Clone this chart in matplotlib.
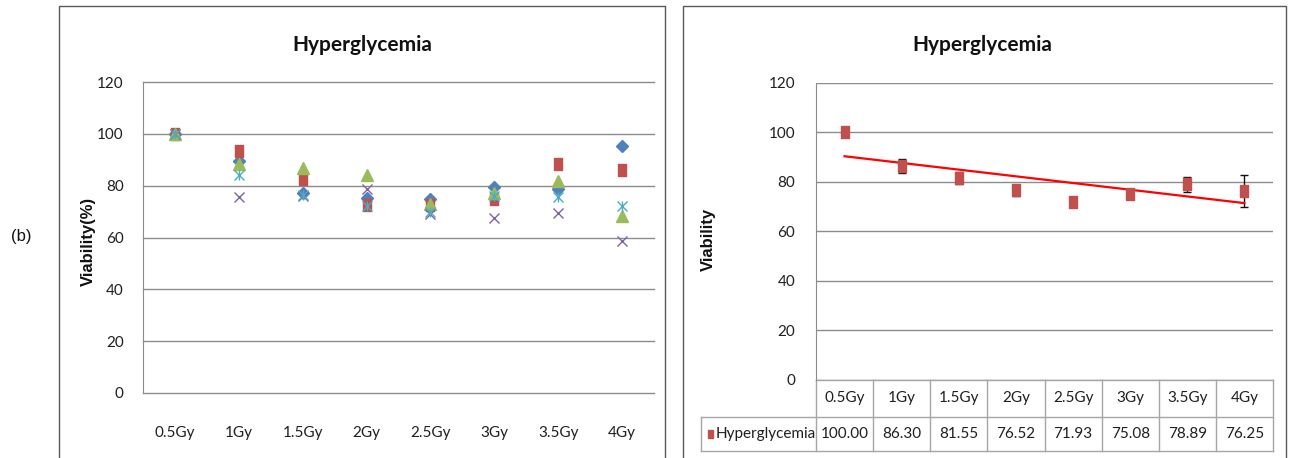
import numpy as np
import matplotlib
matplotlib.use("Agg")
import matplotlib.pyplot as plt
from matplotlib.lines import Line2D
from matplotlib.patches import Rectangle
from matplotlib.path import Path
from matplotlib.transforms import blended_transform_factory

# dose categories
doses = ["0.5Gy", "1Gy", "1.5Gy", "2Gy", "2.5Gy", "3Gy", "3.5Gy", "4Gy"]

# left panel: individual replicates
rep_blue = [100, 89.7, 77.0, 75.3, 74.9, 79.5, 78.7, 95.4]
rep_red = [100, 93.2, 82.7, 72.7, 72.4, 74.9, 88.5, 86.2]
rep_green = [100, 88.3, 87.0, 84.0, 73.0, 77.0, 81.7, 68.2]
rep_purple = [100, 75.6, 76.0, 78.8, 69.0, 67.6, 69.4, 58.8]
rep_cyan = [100, 84.2, 76.5, 72.0, 70.0, 76.0, 75.6, 72.0]

# right panel: means and error bars
mean_vals = [100.00, 86.30, 81.55, 76.52, 71.93, 75.08, 78.89, 76.25]
err_vals = [0.0, 2.9, 2.5, 2.3, 1.5, 1.5, 3.0, 6.4]

narrow = ["Lato", "DejaVu Sans"]
arial = ["Liberation Sans", "DejaVu Sans"]
txt = "#1f1f1f"
grid_c = "#8c8c8c"

W, H = 1289, 458
fig = plt.figure(figsize=(W / 100, H / 100), dpi=100)


def fx(px):
    return px / W


def fy(py):
    return 1 - py / H


# panel frames
for x0, x1 in [(59, 665), (683, 1286)]:
    fig.add_artist(Line2D([fx(x0), fx(x0), fx(x1), fx(x1)], [0, fy(6), fy(6), 0],
                          color="#5a5a5a", lw=1.0))

# tall rectangle marker (the Excel squares look stretched)
rect_marker = Path([(-0.7, -1), (0.7, -1), (0.7, 1), (-0.7, 1), (-0.7, -1)],
                   [Path.MOVETO, Path.LINETO, Path.LINETO, Path.LINETO, Path.CLOSEPOLY])

x = np.arange(len(doses))

# ---------------- left panel ----------------
ax1 = fig.add_axes([fx(143), fy(393), fx(654 - 143), (393 - 82) / H])
ax1.plot(x, rep_blue, ls="none", marker="D", ms=6.5, color="#4F81BD", zorder=3)
ax1.plot(x, rep_red, ls="none", marker=rect_marker, ms=8.5, color="#C0504D", zorder=3)
ax1.plot(x, rep_green, ls="none", marker="^", ms=8, color="#9BBB59", zorder=3)
ax1.plot(x, rep_purple, ls="none", marker="x", ms=7.5, mew=1.0, color="#8064A2", zorder=3)
ax1.plot(x, rep_cyan, ls="none", marker="x", ms=7.5, mew=1.0, color="#4BACC6", zorder=3)
ax1.plot(x, rep_cyan, ls="none", marker="|", ms=7.5, mew=1.0, color="#4BACC6", zorder=3)

ax1.set_xlim(-0.5, len(doses) - 0.5)
ax1.set_ylim(0, 120)
ax1.set_yticks(range(0, 121, 20))
ax1.set_xticks(x)
ax1.set_xticklabels(doses)
ax1.grid(axis="y", color=grid_c, lw=1.0)
for gl in ax1.get_ygridlines():
    gl.set_clip_on(False)
ax1.set_axisbelow(True)
for s in ["top", "right", "bottom"]:
    ax1.spines[s].set_visible(False)
ax1.spines["left"].set_color(grid_c)
ax1.tick_params(axis="x", length=0, pad=24, labelsize=11, labelcolor=txt)
ax1.tick_params(axis="y", length=0, pad=14, labelsize=11, labelcolor=txt)
for lab in ax1.get_xticklabels() + ax1.get_yticklabels():
    lab.set_family(narrow)
fig.text(fx(362), fy(45), "Hyperglycemia", ha="center", va="center",
         fontsize=15, fontweight="bold", family=narrow, color="#111")
fig.text(fx(88), fy(241), "Viability(%)", rotation=90, ha="center", va="center",
         fontsize=12, fontweight="bold", family=arial, color="#111")
fig.text(fx(21), fy(236), "(b)", ha="center", va="center", fontsize=12,
         family=arial, color="#111")

# ---------------- right panel ----------------
ax2 = fig.add_axes([fx(816), fy(379.7), fx(1273 - 816), (379.7 - 82.7) / H])
ax2.errorbar(x, mean_vals, yerr=err_vals, ls="none", ecolor="#111", elinewidth=1.0,
             capsize=3, capthick=1.0, zorder=3)
ax2.plot(x, mean_vals, ls="none", marker=rect_marker, ms=8.5, color="#C0504D", zorder=4)
coef = np.polyfit(x + 1, mean_vals, 1)
ax2.plot(x, np.polyval(coef, x + 1), color="#FF0000", lw=1.6, zorder=3)

ax2.set_xlim(-0.5, len(doses) - 0.5)
ax2.set_ylim(0, 120)
ax2.set_yticks(range(0, 121, 20))
ax2.set_xticks([])
ax2.grid(axis="y", color=grid_c, lw=1.0)
ax2.set_axisbelow(True)
for s in ["top", "right", "bottom"]:
    ax2.spines[s].set_visible(False)
ax2.spines["left"].set_color(grid_c)
ax2.tick_params(axis="y", length=0, pad=15, labelsize=11, labelcolor=txt)
for lab in ax2.get_yticklabels():
    lab.set_family(narrow)
fig.text(fx(982), fy(45), "Hyperglycemia", ha="center", va="center",
         fontsize=15, fontweight="bold", family=narrow, color="#111")
fig.text(fx(708), fy(239), "Viability", rotation=90, ha="center", va="center",
         fontsize=12, fontweight="bold", family=arial, color="#111")

# data table under the right plot
ax_h = 379.7 - 82.7
r1 = -(416.7 - 379.7) / ax_h
r2 = -(451 - 379.7) / ax_h
bt = blended_transform_factory(ax2.transData, ax2.transAxes)
tab_c = "#a6a6a6"
xl, xr = -0.5, len(doses) - 0.5
lab_left = -0.5 - (816 - 700.7) / ((1273 - 816) / len(doses))
ln = dict(color=tab_c, lw=1.0, transform=bt, clip_on=False)
ax2.add_line(Line2D([xl, xr], [0, 0], **ln))
ax2.add_line(Line2D([lab_left, xr], [r1, r1], **ln))
ax2.add_line(Line2D([lab_left, xr], [r2, r2], **ln))
ax2.add_line(Line2D([lab_left, lab_left], [r1, r2], **ln))
for b in np.arange(len(doses) + 1) - 0.5:
    ax2.add_line(Line2D([b, b], [0, r2], **ln))
for i, (d, v) in enumerate(zip(doses, mean_vals)):
    ax2.text(i, r1 / 2, d, transform=bt, ha="center", va="center", fontsize=11,
             family=narrow, color=txt, clip_on=False)
    ax2.text(i, (r1 + r2) / 2, f"{v:.2f}", transform=bt, ha="center", va="center",
             fontsize=11, family=narrow, color=txt, clip_on=False)
ax2.add_patch(Rectangle((lab_left + 0.12, (r1 + r2) / 2 - 0.014), 0.1, 0.028,
                        transform=bt, color="#C0504D", clip_on=False))
ax2.text(lab_left + 0.26, (r1 + r2) / 2, "Hyperglycemia", transform=bt, ha="left",
         va="center", fontsize=11, family=narrow, color=txt, clip_on=False)

fig.savefig("out.png", dpi=100)
